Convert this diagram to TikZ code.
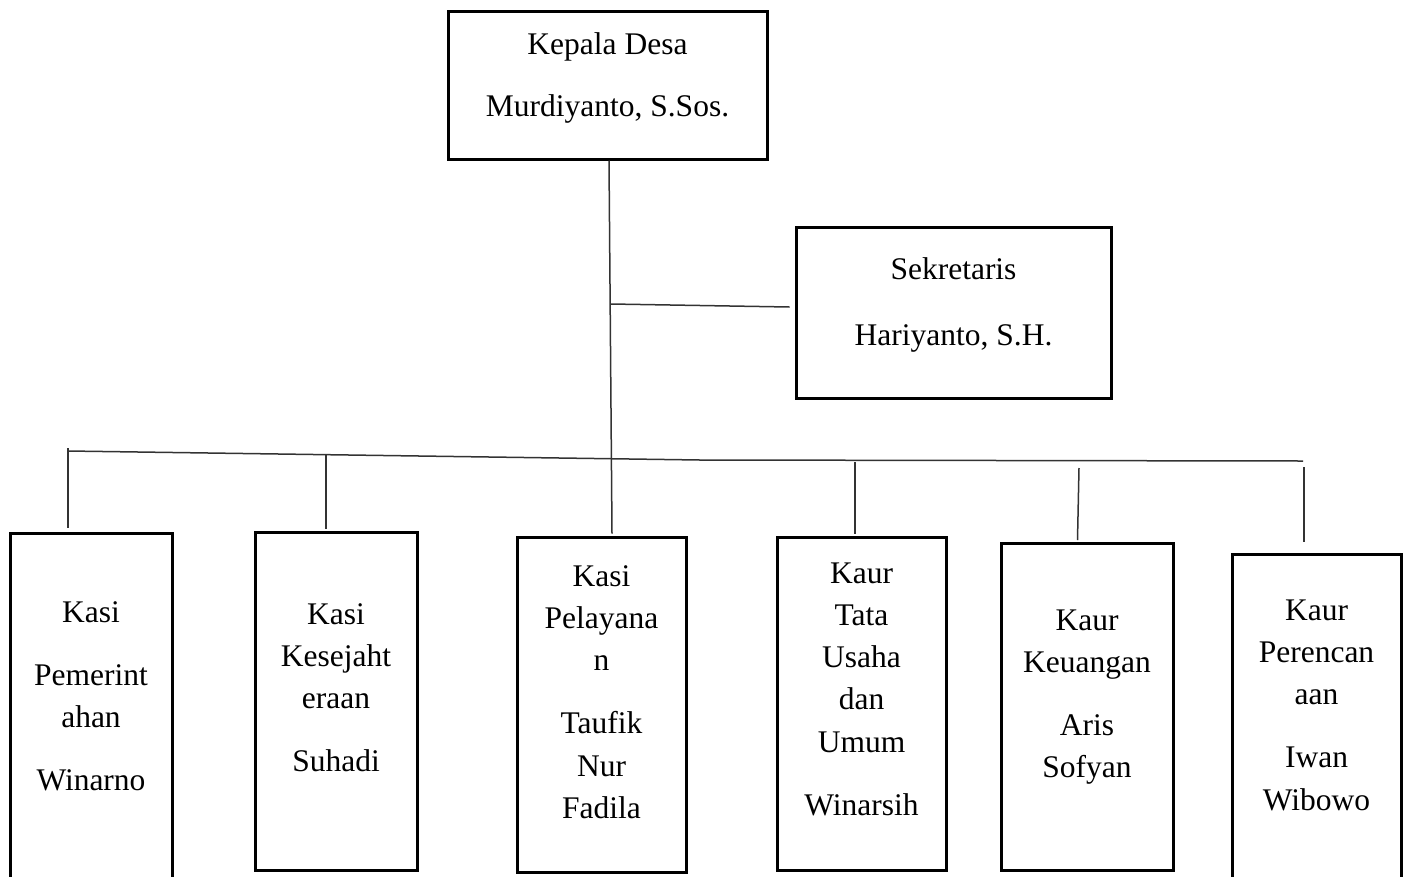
\documentclass[tikz,border=0pt]{standalone}
\usepackage{fontspec}
\setmainfont{Liberation Serif}
\begin{document}
\begin{tikzpicture}[x=1pt,y=-1pt,
  box/.style={draw=black,line width=3pt,rectangle,inner sep=0pt},
  conn/.style={draw=black!80,line width=1.5pt},
  lbl/.style={anchor=base,inner sep=0pt,font=\fontsize{31.5}{42.3}\selectfont}]
\fill[white] (0,0) rectangle (1408,876);
\useasboundingbox (0,0) rectangle (1408,876);
% boxes
\node[box,minimum width=319pt,minimum height=148pt] (kd) at (607.5,85) {};
\node[box,minimum width=315pt,minimum height=171pt] (sk) at (953.5,312.5) {};
\node[box,minimum width=162pt,minimum height=367pt] (b1) at (91,716.5) {};
\node[box,minimum width=162pt,minimum height=338pt] (b2) at (336,701) {};
\node[box,minimum width=169pt,minimum height=335pt] (b3) at (601.5,704.5) {};
\node[box,minimum width=169pt,minimum height=333pt] (b4) at (861.5,703.5) {};
\node[box,minimum width=172pt,minimum height=327pt] (b5) at (1087,706.5) {};
\node[box,minimum width=169pt,minimum height=346pt] (b6) at (1316.5,727) {};
% texts
\node[lbl] (kdt) at (607.5,54) {\begin{tabular}[t]{@{}c@{}}Kepala Desa\\[20pt]Murdiyanto, S.Sos.\end{tabular}};
\node[lbl] (skt) at (953.5,279) {\begin{tabular}[t]{@{}c@{}}Sekretaris\\[24pt]Hariyanto, S.H.\end{tabular}};
\node[lbl] (t1) at (91,622) {\begin{tabular}[t]{@{}c@{}}Kasi\\[21pt]Pemerint\\ahan\\[21pt]Winarno\end{tabular}};
\node[lbl] (t2) at (336,624) {\begin{tabular}[t]{@{}c@{}}Kasi\\Kesejaht\\eraan\\[21pt]Suhadi\end{tabular}};
\node[lbl] (t3) at (601.5,586) {\begin{tabular}[t]{@{}c@{}}Kasi\\Pelayana\\n\\[21pt]Taufik\\Nur\\Fadila\end{tabular}};
\node[lbl] (t4) at (861.5,583) {\begin{tabular}[t]{@{}c@{}}Kaur\\Tata\\Usaha\\dan\\Umum\\[21pt]Winarsih\end{tabular}};
\node[lbl] (t5) at (1087,630) {\begin{tabular}[t]{@{}c@{}}Kaur\\Keuangan\\[21pt]Aris\\Sofyan\end{tabular}};
\node[lbl] (t6) at (1316.5,620) {\begin{tabular}[t]{@{}c@{}}Kaur\\Perencan\\aan\\[21pt]Iwan\\Wibowo\end{tabular}};
% junction coordinates
\coordinate (js) at (611,304);
\coordinate (hL) at (68,451);
\coordinate (hM) at (700,460);
\coordinate (hR) at (1303,461);
\coordinate (c1) at (68,448);
\coordinate (c2) at (326,455);
\coordinate (c4) at (855,462);
\coordinate (c5) at (1079,468);
\coordinate (c6) at (1304,467);
% connectors
\draw[conn] ([xshift=1.5pt]kd.south) -- ([xshift=10.5pt,yshift=2pt]b3.north);
\draw[conn] (js) -- ([xshift=-5pt,yshift=5.5pt]sk.west);
\draw[conn] (hL) -- (hM) -- (hR);
\draw[conn] (c1) -- ([xshift=-23pt,yshift=4pt]b1.north);
\draw[conn] (c2) -- ([xshift=-10pt,yshift=2pt]b2.north);
\draw[conn] (c4) -- ([xshift=-6.5pt,yshift=2pt]b4.north);
\draw[conn] (c5) -- ([xshift=-9.5pt,yshift=1.5pt]b5.north);
\draw[conn] (c6) -- ([xshift=-12.5pt,yshift=11pt]b6.north);
\end{tikzpicture}
\end{document}
